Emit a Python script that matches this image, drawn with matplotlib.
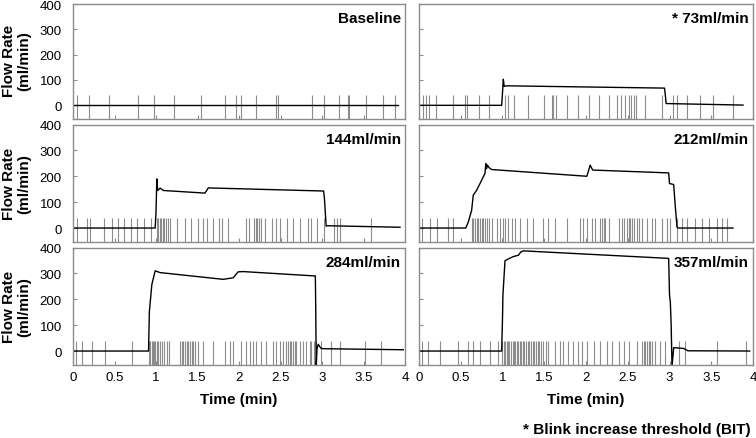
import matplotlib
matplotlib.use('Agg')
import matplotlib.pyplot as plt


plt.rcParams['font.family'] = ['Liberation Sans', 'DejaVu Sans']

# panel titles
titles = ['Baseline', '* 73ml/min', '144ml/min', '212ml/min', '284ml/min', '357ml/min']

# flow traces (time in min, flow in ml/min)
base_t = [0, 1.0, 2.0, 3.0, 3.92]
base_y = [0, 0, 0, 0, 0]

f73_t = [0, 0.99, 1.0, 1.01, 1.02, 1.05, 2.94, 2.95, 2.96, 3.88]
f73_y = [0, 0, 50, 103, 75, 77, 68, 40, 7, 1]

f144_t = [0, 0.99, 1.0, 1.01, 1.02, 1.05, 1.09, 1.59, 1.63, 3.02, 3.03, 3.05, 3.06, 3.94]
f144_y = [0, 0, 61, 190, 145, 154, 145, 135, 155, 143, 111, 7, 9, 3]

f212_t = [0, 0.56, 0.59, 0.63, 0.65, 0.69, 0.71, 0.74, 0.77, 0.79, 0.80, 0.81,
          0.82, 0.84, 0.87, 2.01, 2.05, 2.08, 2.99, 3.0, 3.05, 3.07, 3.09, 3.1, 3.76]
f212_y = [0, 0, 23, 68, 127, 146, 159, 178, 198, 211, 249, 230,
          243, 233, 226, 200, 243, 224, 213, 172, 168, 81, 4, 0, 0]

f284_t = [0, 0.91, 0.92, 0.95, 0.99, 1.05, 1.81, 1.93, 1.99, 2.05, 2.92, 2.925,
          2.93, 2.94, 2.955, 2.97, 2.99, 3.02, 3.98]
f284_y = [0, 0, 152, 257, 310, 303, 277, 283, 306, 307, 290, 150,
          -60, 10, 26, 18, 10, 9, 5]

f357_t = [0, 0.99, 1.0, 1.005, 1.03, 1.07, 1.13, 1.19, 1.22, 1.25, 2.99, 3.0,
          3.01, 3.02, 3.03, 3.05, 3.17, 3.22, 3.96]
f357_y = [0, 0, 126, 216, 349, 356, 365, 370, 383, 387, 358, 216,
          190, 100, -60, 13, 10, 1, 0]

# blink times (min)
blinks_base = [0.045, 0.19, 0.43, 0.78, 0.97, 1.22, 1.54, 1.83, 1.96, 2.03, 2.21,
               2.45, 2.47, 2.88, 3.02, 3.21, 3.31, 3.33, 3.53, 3.73, 3.88]
blinks_73 = [0.05, 0.08, 0.12, 0.2, 0.41, 0.55, 0.58, 0.72, 0.84, 1.03, 1.07, 1.14,
             1.30, 1.50, 1.59, 1.61, 1.64, 1.77, 1.91, 2.04, 2.16, 2.27, 2.37,
             2.42, 2.47, 2.51, 2.54, 2.57, 2.60, 2.71, 2.91, 3.04, 3.09, 3.21,
             3.37, 3.52, 3.76]
blinks_144 = [0.05, 0.17, 0.2, 0.37, 0.47, 0.54, 0.61, 0.70, 0.77, 0.85, 0.94,
              1.01, 1.03, 1.05, 1.06, 1.08, 1.10, 1.12, 1.14, 1.17, 1.25, 1.35,
              1.42, 1.51, 1.57, 1.61, 1.69, 1.76, 1.80, 1.87, 2.08, 2.12, 2.18,
              2.20, 2.22, 2.24, 2.26, 2.31, 2.40, 2.45, 2.49, 2.58, 2.65, 2.74,
              2.83, 2.87, 2.94, 3.02, 3.14, 3.18, 3.22, 3.59]
blinks_212 = [0.04, 0.13, 0.21, 0.35, 0.41, 0.63, 0.65, 0.67, 0.69, 0.71, 0.73,
              0.75, 0.77, 0.79, 0.81, 0.84, 0.87, 0.93, 0.97, 1.01, 1.03, 1.07,
              1.11, 1.15, 1.21, 1.29, 1.37, 1.49, 1.55, 1.63, 1.77, 1.93, 1.97,
              2.01, 2.07, 2.11, 2.17, 2.19, 2.21, 2.23, 2.27, 2.39, 2.43, 2.46,
              2.49, 2.51, 2.53, 2.55, 2.57, 2.61, 2.63, 2.67, 2.73, 2.79, 2.83,
              2.91, 2.97, 3.01, 3.09, 3.15, 3.21, 3.31, 3.39, 3.47, 3.57, 3.63,
              3.69]
blinks_284 = [0.04, 0.11, 0.23, 0.39, 0.71, 0.91, 0.93, 0.95, 0.96, 0.98, 0.99,
              1.01, 1.03, 1.05, 1.07, 1.10, 1.13, 1.16, 1.29, 1.31, 1.33, 1.35,
              1.37, 1.39, 1.41, 1.43, 1.45, 1.47, 1.50, 1.57, 1.69, 1.83, 1.89,
              1.93, 2.03, 2.09, 2.13, 2.17, 2.21, 2.27, 2.33, 2.41, 2.45, 2.49,
              2.53, 2.57, 2.59, 2.61, 2.63, 2.65, 2.67, 2.69, 2.73, 2.77, 2.81,
              2.85, 2.87, 2.90, 2.93, 2.99, 3.11, 3.22, 3.52, 3.71]
blinks_357 = [0.03, 0.11, 0.25, 0.47, 0.59, 0.65, 0.73, 0.85, 0.95,
              1.00, 1.02, 1.03, 1.05, 1.07, 1.08, 1.10, 1.12, 1.14, 1.15, 1.17,
              1.19, 1.21, 1.22, 1.24, 1.26, 1.28, 1.30, 1.32, 1.34, 1.36, 1.38,
              1.40, 1.42, 1.44, 1.46, 1.49, 1.52, 1.55, 1.63, 1.69, 1.73, 1.79,
              1.85, 1.91, 1.95, 2.01, 2.09, 2.17, 2.25, 2.31, 2.39, 2.45, 2.51,
              2.61, 2.67, 2.69, 2.71, 2.73, 2.75, 2.77, 2.79, 2.83, 2.89, 2.95,
              3.11, 3.19, 3.57, 3.92]

traces = [(base_t, base_y), (f73_t, f73_y), (f144_t, f144_y),
          (f212_t, f212_y), (f284_t, f284_y), (f357_t, f357_y)]
blinks = [blinks_base, blinks_73, blinks_144, blinks_212, blinks_284, blinks_357]

GREY = '#8c8c8c'
W, H = 756, 439


def make_axes(fig):
    lefts = [73, 419]
    widths = [332, 334]
    tops = [5, 125.5, 248.5]
    heights = [114.5, 117, 117]
    axes = []
    for r in range(3):
        for c in range(2):
            ax = fig.add_axes([lefts[c] / W, 1 - (tops[r] + heights[r]) / H,
                               widths[c] / W, heights[r] / H])
            axes.append(ax)
    return axes


def style_axis(ax, row, col):
    ax.set_xlim(0, 4)
    ax.set_ylim(-52, 400)
    ax.set_xticks([0, 0.5, 1, 1.5, 2, 2.5, 3, 3.5, 4])
    ax.set_xticklabels(['0', '0.5', '1', '1.5', '2', '2.5', '3', '3.5', '4'])
    ax.set_yticks([0, 100, 200, 300, 400])
    for s in ax.spines.values():
        s.set_color(GREY)
        s.set_linewidth(1.0)
    ax.tick_params(direction='in', length=3, color=GREY, labelsize=9.5,
                   top=False, right=False)
    ax.tick_params(axis='y', pad=8)
    ax.tick_params(axis='x', pad=5)
    if col == 1:
        ax.tick_params(axis='y', labelleft=False)
    if row < 2:
        ax.tick_params(axis='x', labelbottom=False)


def plot():
    fig = plt.figure(figsize=(W / 100, H / 100), dpi=100)
    axes = make_axes(fig)
    for i, ax in enumerate(axes):
        row, col = i // 2, i % 2
        ax.vlines(blinks[i], -52, 40, color=GREY, linewidth=0.8)
        t, y = traces[i]
        ax.plot(t, y, color='black', linewidth=1.0)
        style_axis(ax, row, col)
        ax.text(0.987, 0.88, titles[i], transform=ax.transAxes, ha='right',
                va='center', fontsize=11, fontweight='bold')
    for r in range(3):
        yc = 1 - (2.5 + 123 * r + 58.5) / H
        fig.text(17 / W, yc, 'Flow Rate\n(ml/min)', rotation=90, ha='center',
                 va='center', fontsize=11, fontweight='bold', linespacing=1.1,
                 multialignment='center')
    fig.text(239 / W, 1 - 400 / H, 'Time (min)', ha='center', va='center',
             fontsize=11, fontweight='bold')
    fig.text(586 / W, 1 - 400 / H, 'Time (min)', ha='center', va='center',
             fontsize=11, fontweight='bold')
    fig.text(751 / W, 1 - 430 / H, '* Blink increase threshold (BIT)',
             ha='right', va='center', fontsize=11, fontweight='bold')
    fig.savefig('out.png', dpi=100)


if __name__ == "__main__":
    plot()
